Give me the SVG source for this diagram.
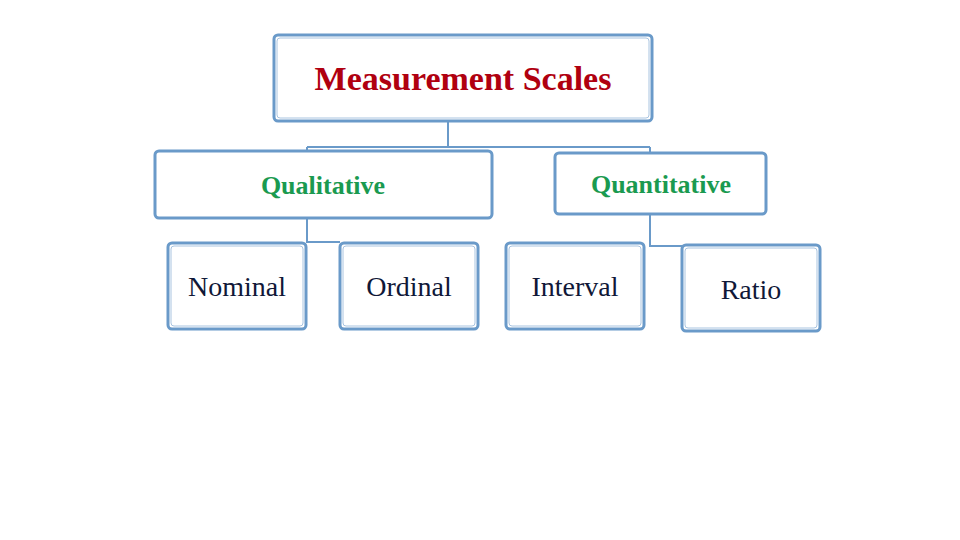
<svg xmlns="http://www.w3.org/2000/svg" width="960" height="540" viewBox="0 0 960 540">
<style>
.b{fill:#fff;stroke:#6a9ac9;stroke-width:3}
.i{fill:none;stroke:#a9c4e0;stroke-width:1}
.c{fill:none;stroke:#6a9ac9;stroke-width:2}
.t{font-family:'Liberation Serif','Times New Roman','DejaVu Serif',serif;text-anchor:middle}
.h{font-size:34px;font-weight:bold;fill:#b00010}
.g{font-size:26px;font-weight:bold;fill:#1a9a50}
.l{font-size:28px;fill:#101838}
</style>
<rect width="960" height="540" fill="#fff"/>
<g id="connectors">
<path class="c" d="M448 121V147M307 147H650M307 147V151M650 147V153"/>
<path class="c" d="M307 218V242H340"/>
<path class="c" d="M650 214V246H683"/>
</g>
<g id="root"><rect class="b" x="274" y="35" width="378" height="86" rx="4"/><rect class="i" x="277" y="38" width="372" height="80" rx="3"/><text class="t h" x="463" y="90">Measurement Scales</text></g>
<g id="qualitative"><rect class="b" x="155" y="151" width="337" height="67" rx="4"/><text class="t g" x="323" y="194">Qualitative</text></g>
<g id="quantitative"><rect class="b" x="555" y="153" width="211" height="61" rx="4"/><text class="t g" x="661" y="193">Quantitative</text></g>
<g id="nominal"><rect class="b" x="168" y="243" width="138" height="86" rx="4"/><rect class="i" x="171" y="246" width="132" height="80" rx="3"/><text class="t l" x="237" y="296">Nominal</text></g>
<g id="ordinal"><rect class="b" x="340" y="243" width="138" height="86" rx="4"/><rect class="i" x="343" y="246" width="132" height="80" rx="3"/><text class="t l" x="409" y="296">Ordinal</text></g>
<g id="interval"><rect class="b" x="506" y="243" width="138" height="86" rx="4"/><rect class="i" x="509" y="246" width="132" height="80" rx="3"/><text class="t l" x="575" y="296">Interval</text></g>
<g id="ratio"><rect class="b" x="682" y="245" width="138" height="86" rx="4"/><rect class="i" x="685" y="248" width="132" height="80" rx="3"/><text class="t l" x="751" y="299">Ratio</text></g>
</svg>
